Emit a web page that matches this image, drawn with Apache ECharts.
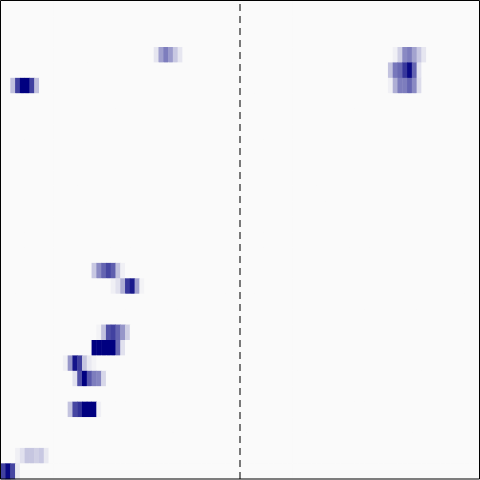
<!DOCTYPE html>
<html>
<head>
<meta charset="utf-8">
<script src="https://cdn.jsdelivr.net/npm/echarts@6/dist/echarts.min.js"></script>
<style>
html,body{margin:0;padding:0;background:#fff;}
#chart{width:480px;height:480px;}
</style>
</head>
<body>
<div id="chart"></div>
<script>
// Grid size
const nCols = 100;
const nRows = 31;

// Non-zero blocks: row index (from top), first column, intensities
const blockRows   = [3, 5, 3, 4, 5, 17, 18, 21, 22, 23, 24, 26, 29, 30];
const blockStarts = [32, 2, 82, 81, 81, 19, 23, 20, 19, 13, 15, 14, 3, 0];
const blockValues = [
  [0.08, 0.36, 0.5, 0.38, 0.2, 0.08],
  [0.23, 0.74, 1, 1, 0.74, 0.23],
  [0.04, 0.17, 0.45, 0.5, 0.35, 0.2, 0.08],
  [0.22, 0.52, 0.58, 0.78, 0.97, 0.6, 0.1],
  [0.04, 0.3, 0.5, 0.5, 0.6, 0.45, 0.12],
  [0.2, 0.45, 0.6, 0.72, 0.62, 0.22, 0.04],
  [0.04, 0.1, 0.3, 0.78, 0.9, 0.35, 0.03],
  [0.03, 0.22, 0.68, 0.74, 0.6, 0.4, 0.17],
  [1, 1, 1, 1, 1, 0.58, 0.1],
  [0.04, 0.4, 0.92, 0.75, 0.21, 0.07, 0.03],
  [0.1, 0.68, 1, 0.65, 0.5, 0.47, 0.14],
  [0.22, 0.72, 0.8, 1, 1, 1, 0.04],
  [0.04, 0.1, 0.21, 0.21, 0.17, 0.2, 0.07],
  [0.74, 0.97, 0.72, 0.07]
];

// Dashed divider position (column boundary)
const dividerX = 50;

const colCats = Array.from({length: nCols}, (_, i) => String(i));
const rowCats = Array.from({length: nRows}, (_, i) => String(i));

const grid = [];
for (let r = 0; r < nRows; r++) {
  grid.push(new Array(nCols).fill(0));
}
blockRows.forEach((r, b) => {
  blockValues[b].forEach((v, k) => { grid[r][blockStarts[b] + k] = v; });
});
const heatData = [];
for (let r = 0; r < nRows; r++) {
  for (let c = 0; c < nCols; c++) heatData.push([c, r, grid[r][c]]);
}

const chart = echarts.init(document.getElementById('chart'), null, {renderer: 'canvas'});
chart.setOption({
  animation: false,
  backgroundColor: '#fafafa',
  grid: {left: 1, right: 1, top: 1, bottom: 1, containLabel: false},
  xAxis: [
    {type: 'category', data: colCats, show: false, boundaryGap: true},
    {type: 'value', min: 0, max: nCols, show: false}
  ],
  yAxis: [
    {type: 'category', data: rowCats, show: false, inverse: true, boundaryGap: true},
    {type: 'value', min: 0, max: nRows, show: false}
  ],
  visualMap: {
    show: false, type: 'continuous', min: 0, max: 1, seriesIndex: 0,
    inRange: {color: ['#fafafa', '#000080']}
  },
  series: [
    {
      type: 'heatmap', data: heatData, xAxisIndex: 0, yAxisIndex: 0,
      emphasis: {disabled: true}, progressive: 0
    },
    {
      type: 'line', xAxisIndex: 1, yAxisIndex: 1, symbol: 'none', silent: true,
      data: [[dividerX, 0], [dividerX, nRows]],
      lineStyle: {color: '#222', width: 1.2, type: [7, 5]}, z: 5
    }
  ],
  graphic: [{
    type: 'rect', z: 100, silent: true,
    shape: {x: 0.5, y: 0.5, width: 479, height: 478.5},
    style: {fill: 'none', stroke: '#000', lineWidth: 1}
  }]
});
</script>
</body>
</html>
